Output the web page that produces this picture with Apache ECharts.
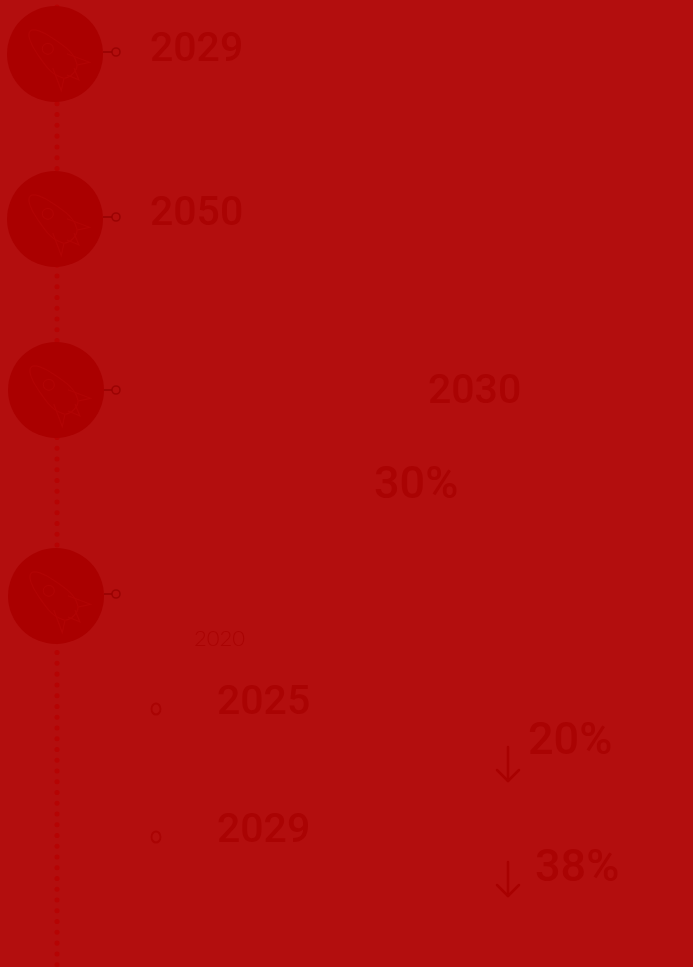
<!DOCTYPE html>
<html>
<head>
<meta charset="utf-8">
<script src="https://cdn.jsdelivr.net/npm/echarts@6/dist/echarts.min.js"></script>
<style>html,body{margin:0;padding:0;background:#B30E0E;}#c{width:693px;height:967px;}</style>
</head>
<body>
<div id="c"></div>
<script>
// ---- data ----
var milestoneX = [55, 55, 56, 56];
var milestoneY = [54, 219, 390, 596];
var connectorY = [52, 217, 390, 594];
var labelText = ['2029', '2050', '2030', '30%', '2020', '2025', '2029', '20%', '38%'];
var labelX = [150, 150, 428, 374, 194, 217, 217, 528, 535];
var labelY = [51, 215, 393, 487, 639, 704, 832, 743, 870];
var labelKind = ['big', 'big', 'big', 'pct', 'small', 'big', 'big', 'pct', 'pct'];
var bulletX = [156, 156];
var bulletY = [709, 837];
var arrowX = [508, 508];
var arrowTop = [747, 862];
var arrowBottom = [781, 896];

var BG = '#B30E0E', CIRCLE = '#AA0000', TEXT = '#A80101', RING = '#960000', DOT = '#B60303', ICON = '#B10404';
var kindStyle = {
  big: {fontSize: 41, fontFamily: 'Roboto', fontWeight: 500},
  pct: {fontSize: 45, fontFamily: 'Roboto', fontWeight: 500},
  small: {fontSize: 22, fontFamily: 'Lato', fontWeight: 300}
};

var chart = echarts.init(document.getElementById('c'), null, {renderer: 'canvas'});
var connectorLines = [], arrows = [];
connectorY.forEach(function (y, i) {
  connectorLines.push({coords: [[milestoneX[i] + 48, y], [112, y]]});
});
arrowX.forEach(function (x, i) {
  arrows.push({coords: [[x, arrowTop[i]], [x, arrowBottom[i]]]});
  arrows.push({coords: [[x - 11, arrowBottom[i] - 11], [x, arrowBottom[i]], [x + 11, arrowBottom[i] - 11]]});
});

function renderRocket(params, api) {
  var p = api.coord([api.value(0), api.value(1)]);
  var st = {fill: 'none', stroke: ICON, lineWidth: 1.2};
  return {
    type: 'group', x: p[0] + 2, y: p[1] + 4, rotation: Math.PI / 4,
    children: [
      {type: 'polygon', shape: {points: [[0, -38], [11, -17], [10, 18], [-10, 18], [-11, -17]], smooth: 0.45}, style: st},
      {type: 'circle', shape: {cx: 0, cy: -13, r: 5.5}, style: st},
      {type: 'polyline', shape: {points: [[-10, 4], [-20, 26], [-9, 19]]}, style: st},
      {type: 'polyline', shape: {points: [[10, 4], [20, 26], [9, 19]]}, style: st},
      {type: 'polyline', shape: {points: [[-5, 19], [0, 31], [5, 19]]}, style: st}
    ]
  };
}

chart.setOption({
  backgroundColor: BG,
  animation: false,
  grid: {left: 0, right: 0, top: 0, bottom: 0},
  xAxis: {type: 'value', min: 0, max: 693, show: false},
  yAxis: {type: 'value', min: 0, max: 967, inverse: true, show: false},
  series: [
    {
      type: 'line', data: [[57, 7], [57, 967]], symbol: 'none', silent: true,
      lineStyle: {color: DOT, width: 5, type: [0.01, 10.75], cap: 'round'}, z: 1
    },
    {
      type: 'lines', coordinateSystem: 'cartesian2d', data: connectorLines, polyline: true,
      lineStyle: {color: RING, width: 1.5, opacity: 1}, z: 2
    },
    {
      type: 'scatter', symbol: 'circle', symbolSize: 8, z: 3,
      itemStyle: {color: BG, borderColor: RING, borderWidth: 1.6},
      data: connectorY.map(function (y) { return [116, y]; })
    },
    {
      type: 'scatter', symbol: 'circle', symbolSize: 96, z: 4,
      itemStyle: {color: CIRCLE, opacity: 1},
      data: milestoneX.map(function (x, i) { return [x, milestoneY[i]]; })
    },
    {
      type: 'custom', renderItem: renderRocket, z: 5,
      data: milestoneX.map(function (x, i) { return [x, milestoneY[i]]; })
    },
    {
      type: 'scatter', symbol: 'circle', symbolSize: [9, 11], z: 5,
      itemStyle: {color: 'rgba(0,0,0,0)', borderColor: TEXT, borderWidth: 2},
      data: bulletX.map(function (x, i) { return [x, bulletY[i]]; })
    },
    {
      type: 'lines', coordinateSystem: 'cartesian2d', data: arrows, polyline: true,
      lineStyle: {color: TEXT, width: 2.5, opacity: 1, cap: 'round', join: 'round'}, z: 5
    },
    {
      type: 'scatter', symbolSize: 0, z: 6,
      data: labelText.map(function (t, i) {
        var s = kindStyle[labelKind[i]];
        return {
          name: t, value: [labelX[i], labelY[i]],
          label: {
            show: true, position: 'inside', align: 'left', verticalAlign: 'middle',
            formatter: '{b}', color: TEXT, fontSize: s.fontSize, fontFamily: s.fontFamily,
            fontWeight: s.fontWeight
          }
        };
      })
    }
  ]
});
</script>
</body>
</html>
